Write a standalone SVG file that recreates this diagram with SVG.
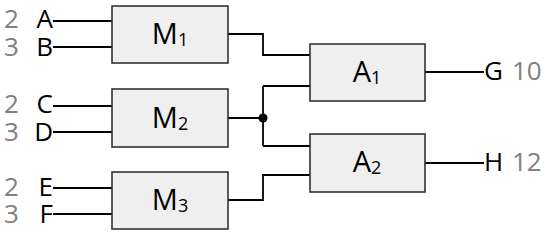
<svg xmlns="http://www.w3.org/2000/svg" width="550" height="235" viewBox="0 0 550 235">
<style>
.box{fill:#efefef;stroke:#333;stroke-width:1.6}
.w{fill:none;stroke:#000;stroke-width:1.8}
.lbl{font-family:"Open Sans","Noto Sans",sans-serif;font-size:26px;fill:#000}
.in{text-anchor:end}
.num{font-family:"Open Sans","Noto Sans",sans-serif;font-size:26px;fill:#808080}
.bl{font-family:"Open Sans","Noto Sans",sans-serif;font-size:29px;fill:#000;text-anchor:middle}
.sub{font-size:18px}
</style>
<rect width="550" height="235" fill="#fff"/>
<g id="connectors">
<path class="w" d="M53 21H112M53 47H112"/>
<path class="w" d="M53 106H112M53 132H112"/>
<path class="w" d="M53 188H112M53 214H112"/>
<path class="w" d="M228 34H263V55H310"/>
<path class="w" d="M228 118H263M263 86V146M263 86H310M263 146H310"/>
<path class="w" d="M228 200H263V175H310"/>
<path class="w" d="M425 72H484M425 163H484"/>
<circle cx="263" cy="118" r="4.5" fill="#000"/>
</g>
<g id="inputs">
<text class="num" x="4" y="28">2</text><text class="lbl in" x="53" y="28">A</text>
<text class="num" x="4" y="56">3</text><text class="lbl in" x="53" y="56">B</text>
<text class="num" x="4" y="113">2</text><text class="lbl in" x="53" y="113">C</text>
<text class="num" x="4" y="141">3</text><text class="lbl in" x="53" y="141">D</text>
<text class="num" x="4" y="196">2</text><text class="lbl in" x="53" y="196">E</text>
<text class="num" x="4" y="223">3</text><text class="lbl in" x="53" y="223">F</text>
</g>
<g id="M1"><rect class="box" x="112" y="6" width="116" height="57"/><text class="bl" x="170" y="44">M<tspan class="sub" dy="2">1</tspan></text></g>
<g id="M2"><rect class="box" x="112" y="89" width="116" height="58"/><text class="bl" x="170" y="128">M<tspan class="sub" dy="2">2</tspan></text></g>
<g id="M3"><rect class="box" x="112" y="172" width="116" height="57"/><text class="bl" x="170" y="210">M<tspan class="sub" dy="2">3</tspan></text></g>
<g id="A1"><rect class="box" x="310" y="44" width="115" height="57"/><text class="bl" x="367" y="82">A<tspan class="sub" dy="2">1</tspan></text></g>
<g id="A2"><rect class="box" x="310" y="134" width="115" height="58"/><text class="bl" x="367" y="172">A<tspan class="sub" dy="2">2</tspan></text></g>
<g id="outputs">
<text class="lbl" x="484" y="80">G</text><text class="num" x="512" y="80">10</text>
<text class="lbl" x="484" y="171">H</text><text class="num" x="512" y="171">12</text>
</g>
</svg>
